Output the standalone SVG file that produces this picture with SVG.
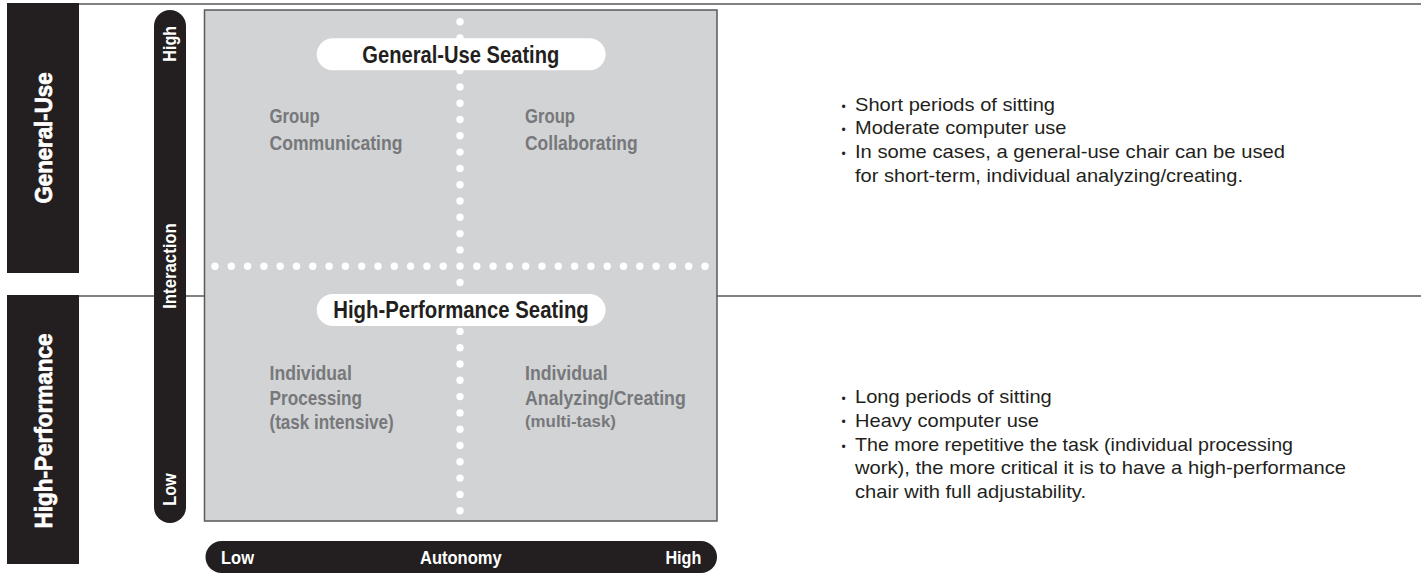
<svg xmlns="http://www.w3.org/2000/svg" width="1421" height="581" viewBox="0 0 1421 581">
<style>
  .bar { fill: #231f20; }
  .barText { font-family: "Liberation Sans", Arial, sans-serif; font-weight: bold; font-size: 23px; fill: #ffffff; stroke: #ffffff; stroke-width: 0.7; text-anchor: middle; }
  .axisText { font-family: "Liberation Sans", Arial, sans-serif; font-weight: bold; font-size: 18px; fill: #ffffff; }
  .axisTextB { font-family: "Liberation Sans", Arial, sans-serif; font-weight: bold; font-size: 19px; fill: #ffffff; }
  .rule { stroke: #58595b; stroke-width: 1.5; fill: none; }
  .quad { fill: #d1d3d4; stroke: #58595b; stroke-width: 1.5; }
  .dot { fill: #ffffff; }
  .pill { fill: #ffffff; }
  .pillText { font-family: "Liberation Sans", Arial, sans-serif; font-weight: bold; font-size: 23px; fill: #231f20; text-anchor: middle; }
  .qlabel { font-family: "Liberation Sans", Arial, sans-serif; font-weight: bold; font-size: 20.5px; fill: #77787b; }
  .qsmall { font-family: "Liberation Sans", Arial, sans-serif; font-weight: bold; font-size: 16.5px; fill: #77787b; }
  .body { font-family: "Liberation Sans", Arial, sans-serif; font-size: 19px; fill: #231f20; }
  .bullet { font-family: "Liberation Sans", Arial, sans-serif; font-size: 12px; fill: #231f20; }
</style>
<defs>
  <circle id="d" r="3.7" class="dot"/>
</defs>

<g id="rules">
  <line class="rule" x1="79" y1="4" x2="1421" y2="4"/>
  <line class="rule" x1="79" y1="296" x2="205" y2="296"/>
  <line class="rule" x1="717" y1="296" x2="1421" y2="296"/>
</g>

<g id="band-general-use">
  <rect class="bar" x="7" y="3" width="72" height="270"/>
  <text class="barText" transform="translate(52,138) rotate(-90)" textLength="131" lengthAdjust="spacingAndGlyphs">General-Use</text>
</g>
<g id="band-high-performance">
  <rect class="bar" x="7" y="295" width="72" height="269"/>
  <text class="barText" transform="translate(52,431) rotate(-90)" textLength="195" lengthAdjust="spacingAndGlyphs">High-Performance</text>
</g>

<g id="axis-interaction">
  <rect class="bar" x="154" y="10" width="32" height="513" rx="16" ry="16"/>
  <text class="axisText" text-anchor="middle" transform="translate(176,43.8) rotate(-90)" textLength="35.7" lengthAdjust="spacingAndGlyphs">High</text>
  <text class="axisText" text-anchor="middle" transform="translate(176,266) rotate(-90)" textLength="85.7" lengthAdjust="spacingAndGlyphs">Interaction</text>
  <text class="axisText" text-anchor="middle" transform="translate(176,489.5) rotate(-90)" textLength="32.4" lengthAdjust="spacingAndGlyphs">Low</text>
</g>

<g id="axis-autonomy">
  <rect class="bar" x="205.5" y="541" width="511.5" height="32" rx="16" ry="16"/>
  <text class="axisTextB" x="221" y="563.5" textLength="33" lengthAdjust="spacingAndGlyphs">Low</text>
  <text class="axisTextB" x="460.8" y="563.5" text-anchor="middle" textLength="81.6" lengthAdjust="spacingAndGlyphs">Autonomy</text>
  <text class="axisTextB" x="701.4" y="563.5" text-anchor="end" textLength="36" lengthAdjust="spacingAndGlyphs">High</text>
</g>

<g id="quadrant-field">
  <rect class="quad" x="204.5" y="10" width="512.5" height="511"/>
</g>

<g id="connectors">
  <g id="dots-vertical">
    <use href="#d" x="460" y="21.7"/><use href="#d" x="460" y="38"/><use href="#d" x="460" y="54.3"/><use href="#d" x="460" y="70.6"/>
    <use href="#d" x="460" y="86.9"/><use href="#d" x="460" y="103.2"/><use href="#d" x="460" y="119.5"/><use href="#d" x="460" y="135.8"/>
    <use href="#d" x="460" y="152.1"/><use href="#d" x="460" y="168.4"/><use href="#d" x="460" y="184.7"/><use href="#d" x="460" y="201"/>
    <use href="#d" x="460" y="217.3"/><use href="#d" x="460" y="233.6"/><use href="#d" x="460" y="249.9"/><use href="#d" x="460" y="266.2"/>
    <use href="#d" x="460" y="282.5"/><use href="#d" x="460" y="298.8"/><use href="#d" x="460" y="315.1"/><use href="#d" x="460" y="331.4"/>
    <use href="#d" x="460" y="347.7"/><use href="#d" x="460" y="364"/><use href="#d" x="460" y="380.3"/><use href="#d" x="460" y="396.6"/>
    <use href="#d" x="460" y="412.9"/><use href="#d" x="460" y="429.2"/><use href="#d" x="460" y="445.5"/><use href="#d" x="460" y="461.8"/>
    <use href="#d" x="460" y="478.1"/><use href="#d" x="460" y="494.4"/><use href="#d" x="460" y="510.7"/>
  </g>
  <g id="dots-horizontal">
    <use href="#d" x="215" y="266.2"/><use href="#d" x="231.3" y="266.2"/><use href="#d" x="247.6" y="266.2"/><use href="#d" x="263.9" y="266.2"/>
    <use href="#d" x="280.2" y="266.2"/><use href="#d" x="296.5" y="266.2"/><use href="#d" x="312.8" y="266.2"/><use href="#d" x="329.1" y="266.2"/>
    <use href="#d" x="345.4" y="266.2"/><use href="#d" x="361.7" y="266.2"/><use href="#d" x="378" y="266.2"/><use href="#d" x="394.3" y="266.2"/>
    <use href="#d" x="410.6" y="266.2"/><use href="#d" x="426.9" y="266.2"/><use href="#d" x="443.2" y="266.2"/>
    <use href="#d" x="476.8" y="266.2"/><use href="#d" x="493.1" y="266.2"/><use href="#d" x="509.4" y="266.2"/><use href="#d" x="525.7" y="266.2"/>
    <use href="#d" x="542" y="266.2"/><use href="#d" x="558.3" y="266.2"/><use href="#d" x="574.6" y="266.2"/><use href="#d" x="590.9" y="266.2"/>
    <use href="#d" x="607.2" y="266.2"/><use href="#d" x="623.5" y="266.2"/><use href="#d" x="639.8" y="266.2"/><use href="#d" x="656.1" y="266.2"/>
    <use href="#d" x="672.4" y="266.2"/><use href="#d" x="688.7" y="266.2"/><use href="#d" x="705" y="266.2"/>
  </g>
</g>

<g id="general-use-seating">
  <rect class="pill" x="316.7" y="38.3" width="288.9" height="32" rx="16" ry="16"/>
  <text class="pillText" x="460.8" y="62.7" textLength="197" lengthAdjust="spacingAndGlyphs">General-Use Seating</text>
</g>
<g id="high-performance-seating">
  <rect class="pill" x="316.7" y="294" width="288.9" height="32" rx="16" ry="16"/>
  <text class="pillText" x="461" y="318" textLength="255.5" lengthAdjust="spacingAndGlyphs">High-Performance Seating</text>
</g>

<g id="group-communicating">
  <text class="qlabel" x="269.5" y="122.7" textLength="50.3" lengthAdjust="spacingAndGlyphs">Group</text>
  <text class="qlabel" x="269.5" y="149.7" textLength="133" lengthAdjust="spacingAndGlyphs">Communicating</text>
</g>
<g id="group-collaborating">
  <text class="qlabel" x="525" y="122.7" textLength="50" lengthAdjust="spacingAndGlyphs">Group</text>
  <text class="qlabel" x="525" y="149.7" textLength="112.6" lengthAdjust="spacingAndGlyphs">Collaborating</text>
</g>
<g id="individual-processing">
  <text class="qlabel" x="269.5" y="380" textLength="82.3" lengthAdjust="spacingAndGlyphs">Individual</text>
  <text class="qlabel" x="269.5" y="405" textLength="92.6" lengthAdjust="spacingAndGlyphs">Processing</text>
  <text class="qlabel" x="269.5" y="429.3" textLength="124.3" lengthAdjust="spacingAndGlyphs">(task intensive)</text>
</g>
<g id="individual-analyzing">
  <text class="qlabel" x="525" y="380" textLength="82.6" lengthAdjust="spacingAndGlyphs">Individual</text>
  <text class="qlabel" x="525" y="405" textLength="160.8" lengthAdjust="spacingAndGlyphs">Analyzing/Creating</text>
  <text class="qsmall" x="525" y="426.7" textLength="90.9" lengthAdjust="spacingAndGlyphs">(multi-task)</text>
</g>

<g id="notes-general-use">
  <text class="bullet" x="841.5" y="110.5">•</text>
  <text class="body" x="855" y="111" textLength="200" lengthAdjust="spacingAndGlyphs">Short periods of sitting</text>
  <text class="bullet" x="841.5" y="133.8">•</text>
  <text class="body" x="855" y="134.3" textLength="211.5" lengthAdjust="spacingAndGlyphs">Moderate computer use</text>
  <text class="bullet" x="841.5" y="157.8">•</text>
  <text class="body" x="855" y="158.3" textLength="430" lengthAdjust="spacingAndGlyphs">In some cases, a general-use chair can be used</text>
  <text class="body" x="855" y="182.3" textLength="388" lengthAdjust="spacingAndGlyphs">for short-term, individual analyzing/creating.</text>
</g>
<g id="notes-high-performance">
  <text class="bullet" x="841.5" y="402.8">•</text>
  <text class="body" x="855" y="403.3" textLength="196.8" lengthAdjust="spacingAndGlyphs">Long periods of sitting</text>
  <text class="bullet" x="841.5" y="426.2">•</text>
  <text class="body" x="855" y="426.7" textLength="184" lengthAdjust="spacingAndGlyphs">Heavy computer use</text>
  <text class="bullet" x="841.5" y="450.5">•</text>
  <text class="body" x="855" y="451" textLength="438" lengthAdjust="spacingAndGlyphs">The more repetitive the task (individual processing</text>
  <text class="body" x="855" y="474.3" textLength="491" lengthAdjust="spacingAndGlyphs">work), the more critical it is to have a high-performance</text>
  <text class="body" x="855" y="498.3" textLength="231" lengthAdjust="spacingAndGlyphs">chair with full adjustability.</text>
</g>
</svg>
